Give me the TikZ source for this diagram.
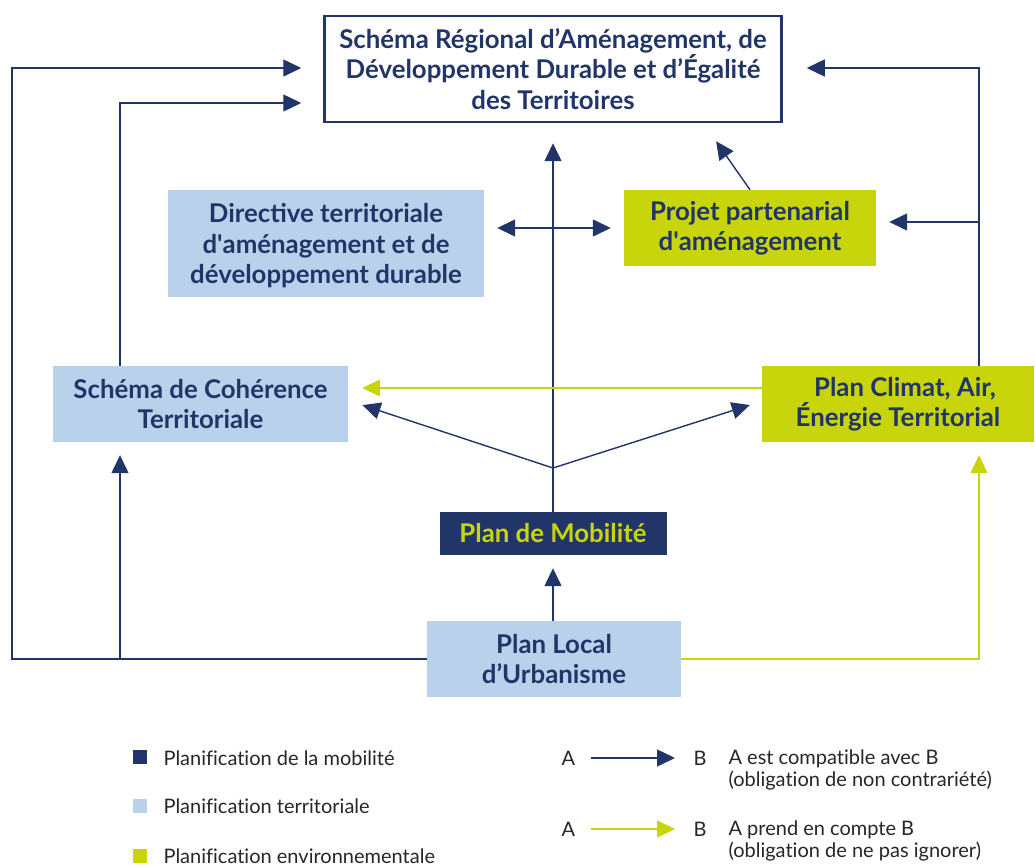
\documentclass[tikz,border=0pt]{standalone}
\usepackage{fontspec}
\setmainfont{Lato}
\newfontfamily\legfont{Lato}[Ligatures=NoCommon]
\usetikzlibrary{arrows.meta,calc}
\definecolor{navy}{HTML}{213568}
\definecolor{terri}{HTML}{B9D1EA}
\definecolor{lime}{HTML}{C8D50A}

\begin{document}
\begin{tikzpicture}[
  x=1pt, y=-1pt,
  box/.style={inner sep=0pt, align=center, text=navy, font=\fontsize{25.8}{30.5}\selectfont\bfseries},
  terribox/.style={box, fill=terri},
  envbox/.style={box, fill=lime},
  edge/.style={-{Triangle[length=18pt,width=17pt]}, line width=1.4pt, draw=navy},
  tedge/.style={-{Triangle[length=18pt,width=17pt]}, line width=1.3pt, draw=lime},
  legtext/.style={anchor=west, text=black!85, font=\legfont\fontsize{20}{22.5}\selectfont, align=left}
]
\useasboundingbox (0,0) rectangle (1035,866);

\node[box, draw=navy, line width=2.5pt, fill=white, minimum width=457pt, minimum height=106pt] (sraddet) at (553,69)
  {Schéma Régional d’Aménagement, de\\Développement Durable et d’Égalité\\des Territoires};
\node[terribox, minimum width=316pt, minimum height=107pt, text depth=-2pt] (dtadd) at (326,243.5)
  {Directive territoriale\\d\textquotesingle aménagement et de\\développement durable};
\node[envbox, minimum width=252pt, minimum height=76pt] (ppa) at (750,228)
  {Projet partenarial\\d\textquotesingle aménagement};
\node[terribox, minimum width=295pt, minimum height=76pt] (scot) at (200.5,404)
  {Schéma de Cohérence\\Territoriale};
\node[envbox, minimum width=272pt, minimum height=76pt] (pcaet) at (898,404)
  {\hspace*{14pt}Plan Climat, Air,\\Énergie Territorial};
\node[box, fill=navy, text=lime, minimum width=227pt, minimum height=43pt] (pdm) at (553,533.5)
  {Plan de Mobilité};
\node[terribox, minimum width=254pt, minimum height=76pt] (plu) at (554,659)
  {Plan Local\\d’Urbanisme};

\coordinate (scotfoot) at (120,659);
\coordinate (ppafoot) at (979,222);
\coordinate (fork) at (553,468);

% compatibility links
\draw[edge, shorten >=22pt] (plu.west) -- (12,659) |- ([yshift=1pt]sraddet.west);
\draw[edge, shorten >=22pt] (scot.north -| 120,0) |- ([yshift=-34pt]sraddet.west);
\draw[edge, shorten >=13pt] (scotfoot) -- (scot.south -| 120,0);
\draw[edge, shorten >=24pt] (pcaet.north -| 979,0) |- ([yshift=1pt]sraddet.east);
\draw[edge, shorten >=13pt] (ppafoot) -- (ppa.east |- 0,222);
\draw[edge, shorten >=22pt] (ppa.north) -- (sraddet.south -| 703.5,0);
\draw[edge, shorten >=20pt] (pdm.north) -- (sraddet.south);
\draw[edge, {Triangle[length=18pt,width=17pt]}-{Triangle[length=18pt,width=17pt]}, shorten >=13pt, shorten <=13pt]
  (dtadd.east |- 0,228) -- (ppa.west);
\draw[edge, shorten >=15pt] (fork) -- (scot.east |- 0,400.4);
\draw[edge, shorten >=12.6pt] (fork) -- (pcaet.west |- 0,401.2);
\draw[edge, shorten >=13pt] (plu.north -| pdm.south) -- (pdm.south);

% taking into account
\draw[tedge, shorten >=14pt] (pcaet.west |- 0,388) -- (scot.east |- 0,388);
\draw[tedge, shorten >=13pt] (plu.east) -| (pcaet.south -| 979,0);

% legend
\node[fill=navy, minimum size=14pt, inner sep=0pt] (lmob) at (140,757) {};
\node[fill=terri, minimum size=14pt, inner sep=0pt] (lter) at (140,806) {};
\node[fill=lime, minimum size=14pt, inner sep=0pt] (lenv) at (140,856) {};
\node[legtext] at (160,758) {Planification de la mobilité};
\node[legtext] at (160,806) {Planification territoriale};
\node[legtext] at (160,856) {Planification environnementale};

\node[legtext] (a1) at (558,758) {A};
\node[legtext] (b1) at (690,758) {B};
\node[legtext, anchor=north west] at (725,746) {A est compatible avec B\\(obligation de non contrariété)};
\draw[edge] (591,758) -- (675,758);
\node[legtext] (a2) at (558,829) {A};
\node[legtext] (b2) at (690,829) {B};
\node[legtext, anchor=north west] at (725,817) {A prend en compte B\\(obligation de ne pas ignorer)};
\draw[tedge] (591,829) -- (675,829);
\end{tikzpicture}
\end{document}
